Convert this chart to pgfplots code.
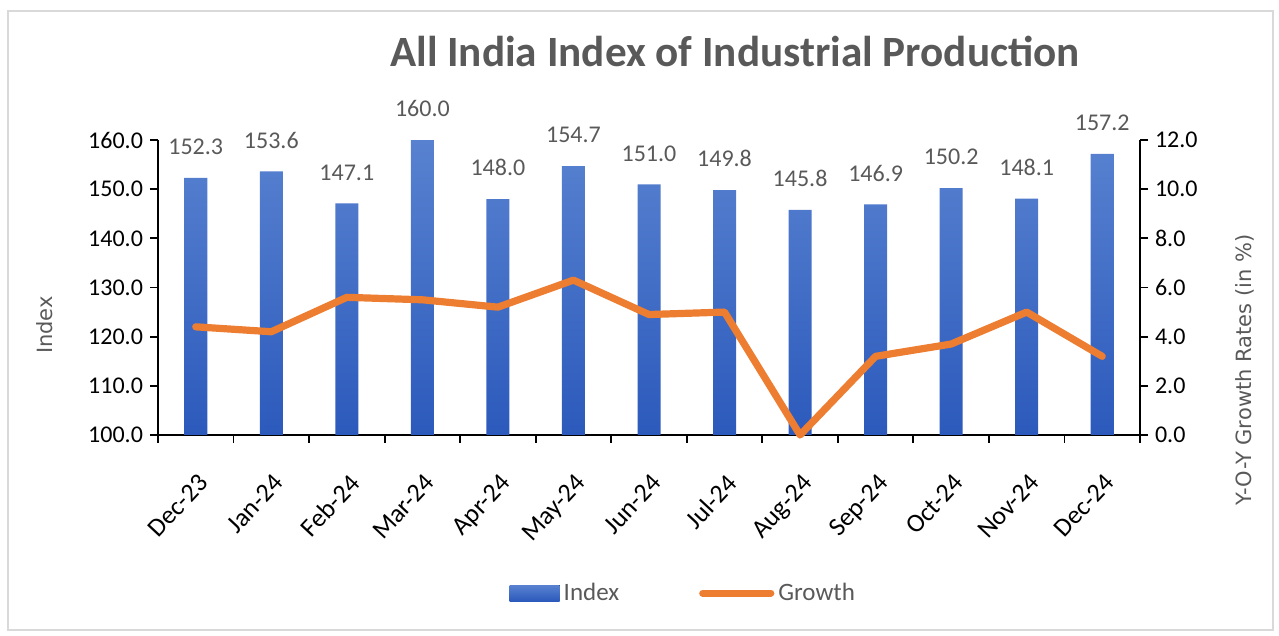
\documentclass[border=0pt]{standalone}
\usepackage{pgfplots}
\pgfplotsset{compat=1.18}
\usepackage{fontspec}
\setmainfont{Carlito}
\newfontfamily\labfont{DejaVu Sans}
\definecolor{barTop}{RGB}{88,130,208}
\definecolor{barBot}{RGB}{44,90,188}
\definecolor{lineOr}{RGB}{237,125,49}
\definecolor{txtGray}{RGB}{89,89,89}
\definecolor{frameGray}{RGB}{217,217,217}
\begin{document}
\begin{tikzpicture}
\useasboundingbox (-79pt,-100.5pt) rectangle (560.5pt,217.5pt);
\draw[frameGray, line width=0.8pt] (-75pt,-97.5pt) rectangle (557.5pt,212pt);
\begin{axis}[
  at={(0,0)}, anchor=south west,
  width=491pt, height=147.5pt, scale only axis,
  xmin=-0.5, xmax=12.5,
  ymin=100, ymax=160,
  ytick={100,110,...,160},
  axis y line*=left, axis x line*=bottom,
  axis line style={black, line width=0.9pt},
  tick align=outside,
  major tick length=4pt,
  minor tick length=4pt,
  xtick={0,...,12},
  minor xtick={-0.5,0.5,...,12.5},
  major x tick style={draw=none},
  minor x tick style={black, line width=0.9pt},
  ytick style={black, line width=0.9pt},
  xticklabels={Dec-23,Jan-24,Feb-24,Mar-24,Apr-24,May-24,Jun-24,Jul-24,Aug-24,Sep-24,Oct-24,Nov-24,Dec-24},
  x tick label style={rotate=47, anchor=north east, font=\fontsize{13}{13}\selectfont, text=black, yshift=-7pt, xshift=-7pt},
  /pgf/number format/assume math mode=true,
  y tick label style={font=\fontsize{12}{12}\selectfont, text=black, /pgf/number format/.cd, fixed, fixed zerofill, precision=1},
  ylabel={Index},
  ylabel style={at={(axis description cs:-0.115,0.373)}, anchor=center, font=\labfont\fontsize{10.5}{10.5}\selectfont, text=txtGray},
  title={All India Index of Industrial Production},
  title style={at={(axis description cs:0.5876,1.258)}, anchor=center, font=\bfseries\fontsize{21.6}{21.6}\selectfont, text=txtGray},
  clip=false,
]
\addplot[ybar, bar width=11.5pt, draw=none, top color=barTop, bottom color=barBot,
  nodes near coords,
  nodes near coords style={font=\fontsize{12}{12}\selectfont, text=txtGray, /tikz/yshift=8pt},
  point meta=explicit symbolic]
coordinates {
(0,152.3) [152.3]
(1,153.6) [153.6]
(2,147.1) [147.1]
(3,160.0) [160.0]
(4,148.0) [148.0]
(5,154.7) [154.7]
(6,151.0) [151.0]
(7,149.8) [149.8]
(8,145.8) [145.8]
(9,146.9) [146.9]
(10,150.2) [150.2]
(11,148.1) [148.1]
(12,157.2) [157.2]
};
\end{axis}
\begin{axis}[
  at={(0,0)}, anchor=south west,
  width=491pt, height=147.5pt, scale only axis,
  xmin=-0.5, xmax=12.5,
  ymin=0, ymax=12,
  ytick={0,2,...,12},
  axis y line*=right, axis x line=none,
  axis line style={black, line width=0.9pt},
  tick align=outside,
  major tick length=4pt,
  ytick style={black, line width=0.9pt},
  /pgf/number format/assume math mode=true,
  y tick label style={font=\fontsize{12}{12}\selectfont, text=black, /pgf/number format/.cd, fixed, fixed zerofill, precision=1},
  ylabel={Y-O-Y Growth Rates (in \%)},
  ylabel style={at={(axis description cs:1.107,0.22)}, anchor=center, font=\labfont\fontsize{10.5}{10.5}\selectfont, text=txtGray},
  clip=false,
  legend style={draw=none, fill=none, at={(axis description cs:0.536,-0.536)}, anchor=center, legend columns=2,
    font=\fontsize{12.5}{12.5}\selectfont, text=txtGray,
    /tikz/every even column/.append style={column sep=38pt}},
  legend cell align=left,
]
\addlegendimage{legend image code/.code={\fill[draw=none, top color=barTop,bottom color=barBot] (0pt,-4pt) rectangle (25pt,4pt);}}
\addlegendentry{Index}
\addplot[lineOr, line width=3.6pt, line join=round, line cap=round,
  legend image code/.code={\draw[lineOr,line width=3.6pt,line cap=round] (0pt,0pt) -- (34pt,0pt);}]
coordinates {
(0,4.4) (1,4.2) (2,5.6) (3,5.5) (4,5.2) (5,6.3) (6,4.9) (7,5.0) (8,0.0) (9,3.2) (10,3.7) (11,5.0) (12,3.2)
};
\addlegendentry{Growth}
\end{axis}
\end{tikzpicture}
\end{document}
